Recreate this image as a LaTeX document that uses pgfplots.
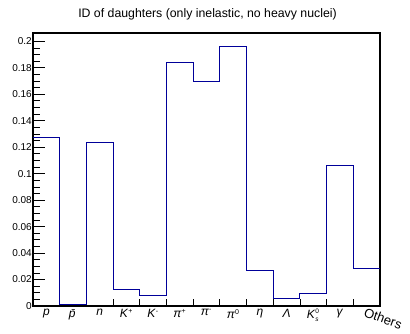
\documentclass[border=0pt]{standalone}
\usepackage{pgfplots}
\pgfplotsset{compat=1.18}
\usepackage{fontspec}
\setmainfont{Liberation Sans}
\definecolor{histblue}{RGB}{0,0,153}
\newcommand{\sps}[1]{$^{\mbox{\fontsize{7}{8}\selectfont #1}}$}
\begin{document}
\begin{tikzpicture}[x=1pt,y=1pt]
\useasboundingbox (0,0) rectangle (410,333);
\node[font=\fontsize{12.3}{14}\selectfont] at (207.5,318.5) {ID of daughters (only inelastic, no heavy nuclei)};
\begin{axis}[
  at={(33pt,27pt)}, anchor=south west,
  scale only axis, width=347pt, height=273pt,
  xmin=0, xmax=13, ymin=0, ymax=0.2063,
  axis line style={line width=1.2pt},
  tick align=inside,
  xtick={0.5,1.5,...,11.5},
  xticklabels={\textit{p},\textit{p̄},\textit{n},\textit{K}\sps{+},\textit{K}\sps{-},\textit{π}\sps{+},\textit{π}\sps{-},\textit{π}\sps{0},\textit{η},\textit{Λ},\textit{K}$^{\mbox{\fontsize{6.5}{7}\selectfont 0}}_{\mbox{\fontsize{6.5}{7}\selectfont\itshape s}}$,\textit{γ}},
  extra x ticks={12.5},
  extra x tick labels={\rotatebox{-20}{Others}},
  extra x tick style={major x tick style={draw=none}, xticklabel style={font=\fontsize{13}{15}\selectfont, anchor=north, xshift=16.5pt, yshift=2pt}},
  major x tick style={draw=none},
  minor xtick={1,...,12},
  ytick={0,0.02,...,0.201},
  minor y tick num=3,
  major tick length=12pt,
  minor tick length=7pt,
  tick style={black, line width=0.8pt},
  xtick pos=bottom, ytick pos=left,
  yticklabel style={font=\fontsize{10}{12}\selectfont, inner xsep=1pt},
  xticklabel style={font=\fontsize{12}{14}\selectfont, inner ysep=1pt, yshift=-2pt, anchor=north},
  /pgf/number format/assume math mode=true,
  scaled y ticks=false,
  yticklabel={\pgfmathprintnumber[fixed,precision=2]{\tick}},
]
\addplot[const plot mark left, histblue, line width=1pt] coordinates {
 (0,0.1272) (1,0.0015) (2,0.1234) (3,0.0128) (4,0.0081) (5,0.184) (6,0.1698)
 (7,0.196) (8,0.027) (9,0.006) (10,0.0096) (11,0.106) (12,0.0285) (13,0.0285)
};
\end{axis}
\end{tikzpicture}
\end{document}
